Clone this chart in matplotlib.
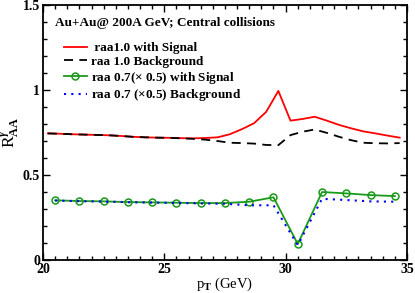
import matplotlib.pyplot as plt
from matplotlib.ticker import MultipleLocator

plt.rcParams['font.family'] = 'Liberation Serif'
plt.rcParams['font.weight'] = 'bold'
plt.rcParams['mathtext.fontset'] = 'custom'
plt.rcParams['mathtext.rm'] = 'Liberation Serif:bold'
plt.rcParams['mathtext.it'] = 'Liberation Serif:italic:bold'
plt.rcParams['mathtext.bf'] = 'Liberation Serif:bold'

# raa 1.0 curves
pt_full = [20.2, 20.7, 21.2, 21.7, 22.2, 22.7, 23.2, 23.7, 24.2, 24.7,
           25.2, 25.7, 26.2, 26.7, 27.2, 27.7, 28.2, 28.7, 29.2, 29.7,
           30.2, 30.7, 31.2, 31.7, 32.2, 32.7, 33.2, 33.7, 34.2, 34.7]
raa10_signal = [0.745, 0.743, 0.740, 0.738, 0.736, 0.734, 0.730, 0.725, 0.722, 0.720,
                0.719, 0.717, 0.716, 0.718, 0.722, 0.740, 0.770, 0.805, 0.872, 0.995,
                0.820, 0.830, 0.843, 0.820, 0.795, 0.775, 0.757, 0.745, 0.732, 0.720]
raa10_background = [0.745, 0.743, 0.740, 0.738, 0.736, 0.734, 0.730, 0.725, 0.722, 0.720,
                    0.719, 0.716, 0.713, 0.708, 0.700, 0.690, 0.688, 0.685, 0.677, 0.676,
                    0.735, 0.755, 0.768, 0.748, 0.725, 0.705, 0.690, 0.687, 0.686, 0.688]

# raa 0.7 (x0.5) curves
pt_bins = [20.5, 21.5, 22.5, 23.5, 24.5, 25.5, 26.5, 27.5,
           28.5, 29.5, 30.5, 31.5, 32.5, 33.5, 34.5]
raa07_signal = [0.351, 0.347, 0.345, 0.341, 0.339, 0.337, 0.335, 0.335,
                0.343, 0.369, 0.094, 0.400, 0.392, 0.382, 0.376]
raa07_background = [0.350, 0.346, 0.344, 0.340, 0.338, 0.336, 0.333, 0.331,
                    0.322, 0.322, 0.088, 0.360, 0.353, 0.345, 0.343]

fig = plt.figure(figsize=(4.15, 2.93), dpi=100)
ax = fig.add_axes([0.1036, 0.1126, 0.877, 0.870])

ax.plot(pt_full, raa10_signal, color='#ff0000', lw=1.3, label=' raa1.0 with Signal')
ax.plot(pt_full, raa10_background, color='black', lw=1.3, ls=(0, (5, 3.5)),
        label='raa 1.0 Background')
ax.plot(pt_bins, raa07_signal, color='#1a9a1a', lw=1.3, marker='o', ms=5,
        mfc='none', mew=1.1, label=r'raa 0.7($\times$ 0.5) with Signal')
ax.plot(pt_bins, raa07_background, color='#0000ff', lw=1.5, ls=(0, (1, 2.5)),
        label=r'raa 0.7 ($\times$0.5) Background')

ax.set_xlim(20, 35)
ax.set_ylim(0, 1.5)
ax.xaxis.set_major_locator(MultipleLocator(5))
ax.xaxis.set_minor_locator(MultipleLocator(0.5))
ax.yaxis.set_minor_locator(MultipleLocator(0.1))
ax.set_yticks([0, 0.5, 1, 1.5])
ax.set_yticklabels(['0', '0.5', '1', '1.5'])
ax.tick_params(which='both', direction='in', top=True, right=True, labelsize=10,
               width=1, pad=2)
ax.tick_params(which='major', length=5)
ax.tick_params(which='minor', length=3)
for s in ax.spines.values():
    s.set_linewidth(1.3)

ax.set_xlabel(r'p$_{\mathrm{T}}$ (GeV)', fontsize=10.5, labelpad=0)
ax.set_ylabel(r'R$^{\gamma}_{\mathrm{AA}}$', fontsize=12.5, labelpad=1)

ax.text(0.033, 0.93, 'Au+Au@ 200A GeV; Central collisions', transform=ax.transAxes,
        fontsize=9.5, va='center', ha='left')
ax.legend(loc='upper left', bbox_to_anchor=(0.058, 0.855), frameon=False, fontsize=9.5,
          handlelength=1.7, handletextpad=0.35, labelspacing=0.12, borderaxespad=0,
          borderpad=0)

plt.savefig('out.png', dpi=100)
